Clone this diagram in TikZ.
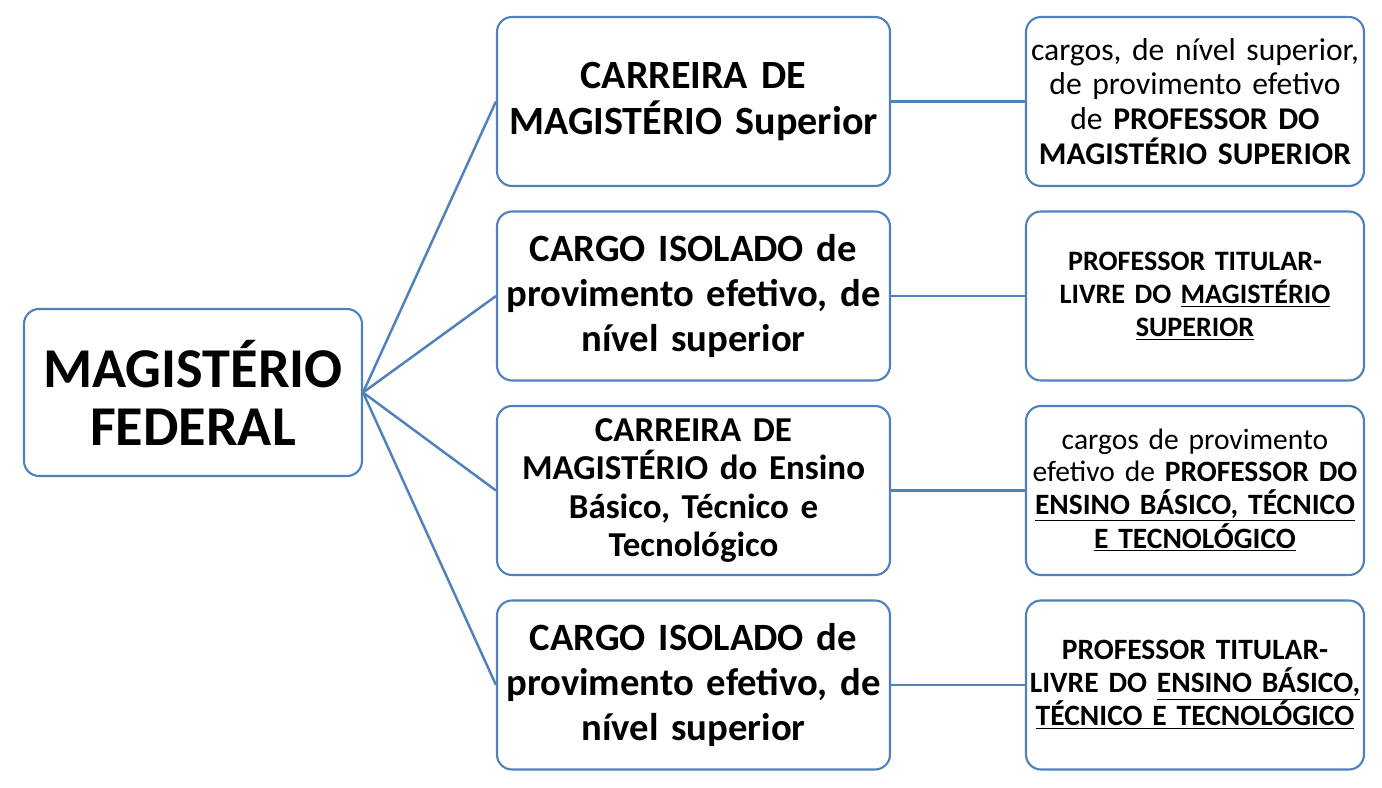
\documentclass[tikz,border=0pt]{standalone}
\usepackage{fontspec}
\setmainfont{Carlito}
\definecolor{smartblue}{HTML}{4F81BD}
\tikzstyle{rootbox} = [
    rectangle,
    rounded corners=0.3cm,
    minimum width=6.76cm,
    minimum height=3.34cm,
    inner sep=1pt,
    text width=6.6cm,
    align=center,
    draw=smartblue,
    line width=1.2pt,
    font=\bfseries\fontsize{32}{33}\selectfont
]
\tikzstyle{midbox} = [
    rectangle,
    rounded corners=0.3cm,
    minimum width=7.86cm,
    minimum height=3.38cm,
    inner sep=1pt,
    text width=7.75cm,
    align=center,
    draw=smartblue,
    line width=1.2pt,
    font=\bfseries\fontsize{22}{25.5}\selectfont
]
\tikzstyle{infobox} = [
    rectangle,
    rounded corners=0.3cm,
    minimum width=6.76cm,
    minimum height=3.38cm,
    inner sep=1pt,
    text width=6.68cm,
    align=center,
    draw=smartblue,
    line width=1.2pt,
    font=\fontsize{16.8}{18.3}\selectfont
]
\tikzstyle{link} = [smartblue, line width=1.4pt]
\begin{document}
\begin{tikzpicture}[node distance=3.89cm]
\useasboundingbox (0,0) rectangle (27.64,-15.76);

\node (root) [rootbox] at (3.86,-7.85) {MAGISTÉRIO\\FEDERAL};

\node (mid1) [midbox, font=\bfseries\fontsize{22.8}{26}\selectfont] at (13.87,-2.03)
{CARREIRA DE\\MAGISTÉRIO Superior};

\node (mid2) [midbox, below of=mid1]
{CARGO ISOLADO de\\provimento efetivo, de\\nível superior};

\node (mid3) [midbox, below of=mid2, font=\bfseries\fontsize{19.9}{22}\selectfont]
{CARREIRA DE\\MAGISTÉRIO do Ensino\\Básico, Técnico e\\Tecnológico};

\node (mid4) [midbox, below of=mid3]
{CARGO ISOLADO de\\provimento efetivo, de\\nível superior};

\node (info1) [infobox, right of=mid1, node distance=10.03cm, font=\fontsize{18}{19.8}\selectfont]
{cargos, de nível superior,\\de provimento efetivo\\de \textbf{PROFESSOR DO}\\\textbf{MAGISTÉRIO SUPERIOR}};

\node (info2) [infobox, right of=mid2, node distance=10.03cm, font=\bfseries\fontsize{16}{18.7}\selectfont]
{PROFESSOR TITULAR-\\LIVRE DO \underline{MAGISTÉRIO}\\\underline{SUPERIOR}};

\node (info3) [infobox, right of=mid3, node distance=10.03cm]
{cargos de provimento\\efetivo de \textbf{PROFESSOR DO}\\\textbf{\underline{ENSINO BÁSICO, TÉCNICO}}\\\textbf{\underline{E TECNOLÓGICO}}};

\node (info4) [infobox, right of=mid4, node distance=10.03cm, font=\bfseries\fontsize{16.8}{18.7}\selectfont]
{PROFESSOR TITULAR-\\LIVRE DO \underline{ENSINO BÁSICO,}\\\underline{TÉCNICO E TECNOLÓGICO}};

\draw [link] (root.east) -- (mid1.west);
\draw [link] (root.east) -- (mid2.west);
\draw [link] (root.east) -- (mid3.west);
\draw [link] (root.east) -- (mid4.west);
\draw [link] (mid1) -- (info1);
\draw [link] (mid2) -- (info2);
\draw [link] (mid3) -- (info3);
\draw [link] (mid4) -- (info4);

\end{tikzpicture}
\end{document}
